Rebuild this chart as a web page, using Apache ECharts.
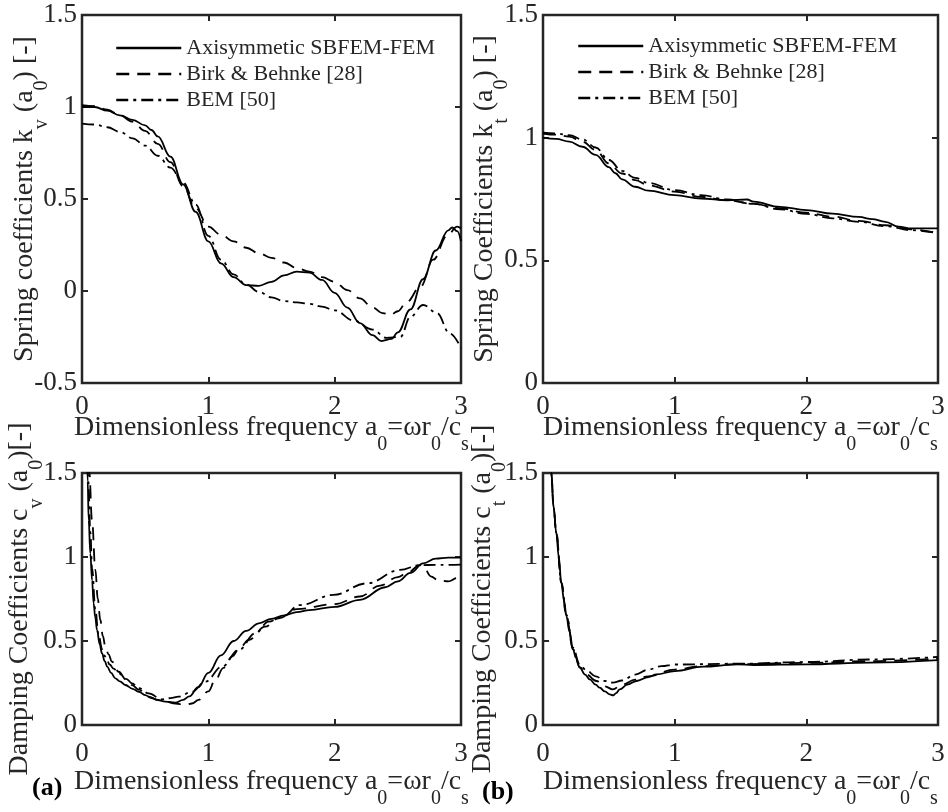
<!DOCTYPE html>
<html>
<head>
<meta charset="utf-8">
<script src="https://cdn.jsdelivr.net/npm/echarts@6/dist/echarts.min.js"></script>
<style>
html,body{margin:0;padding:0;background:#fff;}
#main{width:948px;height:812px;}
</style>
</head>
<body>
<div id="main"></div>
<script>
// ---------------- data ----------------
const seriesNames = ['Axisymmetic SBFEM-FEM', 'Birk & Behnke [28]', 'BEM [50]'];
const xTicks = [0, 1, 2, 3];

// (a) top: spring coefficient k_v
const kvX_sbfem = [0,0.1,0.2,0.3,0.4,0.5,0.55,0.6,0.7,0.8,0.9,1.0,1.1,1.2,1.3,1.4,1.5,1.6,1.7,1.8,1.9,2.0,2.1,2.2,2.3,2.37,2.45,2.5,2.6,2.7,2.8,2.9,2.93,2.97,3.0];
const kv_sbfem   = [1.0,1.0,0.98,0.955,0.93,0.9,0.875,0.84,0.73,0.58,0.43,0.27,0.15,0.075,0.032,0.028,0.05,0.085,0.105,0.1,0.06,-0.01,-0.09,-0.175,-0.24,-0.272,-0.26,-0.225,-0.1,0.065,0.22,0.33,0.345,0.325,0.27];
const kvX_birk = [0,0.1,0.2,0.3,0.4,0.5,0.6,0.7,0.8,0.9,1.0,1.1,1.2,1.3,1.4,1.5,1.6,1.7,1.8,1.9,2.0,2.1,2.2,2.3,2.38,2.44,2.5,2.57,2.68,2.78,2.89,2.97,3.0];
const kv_birk   = [1.01,1.005,0.985,0.955,0.92,0.87,0.8,0.7,0.57,0.45,0.35,0.305,0.27,0.235,0.205,0.18,0.155,0.125,0.105,0.075,0.05,0.005,-0.04,-0.09,-0.12,-0.13,-0.11,-0.06,0.025,0.17,0.3,0.35,0.34];
const kvX_bem = [0,0.1,0.2,0.3,0.4,0.5,0.6,0.7,0.8,0.9,1.0,1.1,1.2,1.3,1.4,1.5,1.6,1.7,1.8,1.9,2.0,2.15,2.3,2.41,2.52,2.6,2.7,2.81,2.91,3.0];
const kv_bem   = [0.91,0.905,0.89,0.865,0.83,0.79,0.735,0.67,0.59,0.47,0.3,0.17,0.09,0.035,-0.005,-0.035,-0.055,-0.062,-0.07,-0.085,-0.105,-0.16,-0.21,-0.255,-0.25,-0.14,-0.076,-0.12,-0.23,-0.31];

// (b) top: spring coefficient k_t
const ktX_sbfem = [0,0.1,0.2,0.3,0.4,0.5,0.55,0.6,0.7,0.8,1.0,1.2,1.4,1.55,1.6,1.8,2.0,2.2,2.4,2.5,2.6,2.7,2.8,3.0];
const kt_sbfem   = [1.0,0.995,0.984,0.963,0.93,0.88,0.855,0.83,0.8,0.784,0.766,0.752,0.745,0.748,0.739,0.718,0.705,0.69,0.677,0.668,0.657,0.637,0.63,0.63];
const ktX_ref = [0,0.1,0.2,0.3,0.4,0.5,0.6,0.7,0.8,1.0,1.2,1.4,1.6,1.8,2.0,2.2,2.4,2.6,2.8,3.0];
const kt_birk  = [1.017,1.012,1.004,0.984,0.95,0.895,0.854,0.827,0.806,0.78,0.759,0.745,0.73,0.712,0.694,0.678,0.661,0.643,0.626,0.61];
const kt_bem   = [1.02,1.017,1.01,0.993,0.96,0.909,0.865,0.836,0.816,0.786,0.766,0.748,0.73,0.708,0.689,0.671,0.657,0.639,0.623,0.61];

// (a) bottom: damping coefficient c_v
const cvX_sbfem = [0.035,0.045,0.053,0.066,0.08,0.092,0.105,0.119,0.14,0.158,0.18,0.2,0.23,0.264,0.3,0.343,0.4,0.45,0.5,0.55,0.6,0.66,0.74,0.8,0.85,0.92,1.0,1.1,1.2,1.3,1.4,1.5,1.6,1.7,1.8,2.0,2.2,2.4,2.5,2.6,2.7,2.8,2.9,3.0];
const cv_sbfem   = [1.75,1.45,1.22,1.02,0.86,0.724,0.64,0.565,0.48,0.427,0.38,0.347,0.31,0.278,0.26,0.238,0.215,0.198,0.178,0.16,0.148,0.139,0.133,0.15,0.17,0.225,0.31,0.415,0.5,0.56,0.605,0.632,0.652,0.672,0.684,0.703,0.745,0.82,0.855,0.905,0.962,0.99,0.996,0.996];
const cvX_birk = [0.045,0.058,0.079,0.106,0.125,0.145,0.165,0.185,0.21,0.237,0.29,0.35,0.396,0.45,0.528,0.6,0.66,0.74,0.818,0.87,0.923,1.0,1.055,1.12,1.187,1.25,1.319,1.45,1.557,1.7,2.0,2.2,2.36,2.5,2.57,2.675,2.72,2.76,2.82,2.9,2.97,3.0];
const cv_birk   = [1.8,1.5,1.22,0.923,0.75,0.625,0.53,0.466,0.42,0.377,0.317,0.27,0.238,0.21,0.169,0.15,0.139,0.128,0.119,0.128,0.149,0.2,0.268,0.34,0.407,0.46,0.506,0.585,0.635,0.69,0.72,0.765,0.83,0.88,0.903,0.952,0.92,0.885,0.862,0.855,0.875,0.885];
const cvX_bem = [0.04,0.05,0.066,0.08,0.106,0.13,0.16,0.185,0.22,0.25,0.29,0.35,0.396,0.45,0.528,0.633,0.7,0.765,0.871,0.976,1.108,1.24,1.372,1.478,1.583,1.726,1.99,2.254,2.517,2.675,2.8,2.9,3.0];
const cv_bem   = [1.7,1.45,1.15,0.93,0.684,0.54,0.45,0.407,0.36,0.335,0.308,0.275,0.248,0.22,0.188,0.153,0.16,0.169,0.198,0.258,0.347,0.446,0.546,0.615,0.645,0.714,0.774,0.843,0.923,0.952,0.953,0.953,0.955];

// (b) bottom: damping coefficient c_t
const ctX_sbfem = [0.05,0.063,0.08,0.101,0.12,0.139,0.16,0.178,0.2,0.228,0.25,0.279,0.32,0.355,0.4,0.431,0.47,0.507,0.533,0.555,0.583,0.64,0.71,0.8,0.862,1.0,1.217,1.47,1.6,2.0,2.485,3.0];
const ct_sbfem   = [1.75,1.5,1.3,1.143,1.0,0.846,0.74,0.648,0.56,0.45,0.4,0.341,0.3,0.271,0.24,0.222,0.2,0.182,0.176,0.19,0.212,0.24,0.262,0.285,0.301,0.321,0.347,0.361,0.357,0.361,0.371,0.386];
const ctX_birk = [0.05,0.063,0.08,0.101,0.139,0.178,0.228,0.279,0.33,0.406,0.47,0.53,0.6,0.7,0.8,1.0,1.2,1.5,2.0,2.5,3.0];
const ct_birk   = [1.75,1.5,1.3,1.143,0.846,0.648,0.45,0.345,0.3,0.262,0.23,0.212,0.24,0.27,0.29,0.33,0.35,0.362,0.37,0.38,0.395];
const ctX_bem = [0.05,0.063,0.08,0.101,0.139,0.178,0.228,0.279,0.33,0.4,0.47,0.53,0.6,0.7,0.8,0.9,1.0,1.5,2.0,2.5,3.0];
const ct_bem   = [1.75,1.5,1.3,1.143,0.85,0.655,0.46,0.36,0.325,0.29,0.262,0.252,0.265,0.3,0.33,0.35,0.36,0.365,0.375,0.39,0.405];

// ---------------- styles ----------------
const FONT = '"Liberation Serif", "Times New Roman", serif';
const TXT = '#262626';
const lineTypes = ['solid', [13, 8], [12, 5, 3, 5]];

function pairs(xs, ys) { return xs.map((x, i) => [x, ys[i]]); }

const rich = {
  m: { fontSize: 28, fontFamily: FONT, color: TXT, verticalAlign: 'top' },
  s: { fontSize: 20, fontFamily: FONT, color: TXT, verticalAlign: 'top', padding: [21, 0, 0, 0] }
};
const xName = '{m|Dimensionless frequency a}{s|0}{m|=ωr}{s|0}{m|/c}{s|s}';
const yNames = [
  '{m|Spring coefficients k}{s|v}{m| (a}{s|0}{m|) [-]}',
  '{m|Spring Coefficients k}{s|t}{m| (a}{s|0}{m|) [-]}',
  '{m|Damping Coefficients c}{s|v}{m| (a}{s|0}{m|)[-]}',
  '{m|Damping Coefficients c}{s|t}{m| (a}{s|0}{m|)[-]}'
];

const grids = [
  { left: 82, top: 15, width: 379, height: 368 },
  { left: 543, top: 15, width: 395, height: 368 },
  { left: 82, top: 473, width: 379, height: 252 },
  { left: 543, top: 473, width: 395, height: 252 }
];
const yRanges = [[-0.5, 1.5], [0, 1.5], [0, 1.5], [0, 1.5]];
const xNameGaps = [31, 31, 43, 43];
const xLabelMargins = [10, 10, 15, 15];
const yNameGaps = [30, 31, 35, 33];

const panelData = [
  [pairs(kvX_sbfem, kv_sbfem), pairs(kvX_birk, kv_birk), pairs(kvX_bem, kv_bem)],
  [pairs(ktX_sbfem, kt_sbfem), pairs(ktX_ref, kt_birk), pairs(ktX_ref, kt_bem)],
  [pairs(cvX_sbfem, cv_sbfem), pairs(cvX_birk, cv_birk), pairs(cvX_bem, cv_bem)],
  [pairs(ctX_sbfem, ct_sbfem), pairs(ctX_birk, ct_birk), pairs(ctX_bem, ct_bem)]
];

const tick = { inside: true, length: 6, lineStyle: { color: TXT, width: 2 } };
const labelStyle = { fontSize: 27, fontFamily: FONT, color: TXT };
const noLine = { show: false, onZero: false };

const xAxes = [], yAxes = [], series = [];
grids.forEach((g, i) => {
  xAxes.push({
    type: 'value', gridIndex: i, min: xTicks[0], max: xTicks[xTicks.length - 1], interval: 1,
    position: 'bottom', axisLine: noLine, axisTick: tick, splitLine: { show: false },
    axisLabel: Object.assign({ margin: xLabelMargins[i] }, labelStyle),
    name: xName, nameLocation: 'middle', nameGap: xNameGaps[i], nameMoveOverlap: false,
    nameTextStyle: { rich: rich }
  });
  xAxes.push({
    type: 'value', gridIndex: i, min: 0, max: 3, interval: 1, position: 'top',
    axisLine: noLine, axisTick: tick, axisLabel: { show: false }, splitLine: { show: false }
  });
  yAxes.push({
    type: 'value', gridIndex: i, min: yRanges[i][0], max: yRanges[i][1], interval: 0.5,
    position: 'left', axisLine: noLine, axisTick: tick, splitLine: { show: false },
    axisLabel: Object.assign({ margin: 5 }, labelStyle),
    name: yNames[i], nameLocation: 'middle', nameGap: yNameGaps[i], nameMoveOverlap: false,
    nameTextStyle: { rich: rich }
  });
  yAxes.push({
    type: 'value', gridIndex: i, min: yRanges[i][0], max: yRanges[i][1], interval: 0.5,
    position: 'right', axisLine: noLine, axisTick: tick, axisLabel: { show: false }, splitLine: { show: false }
  });
  panelData[i].forEach((d, k) => {
    series.push({
      type: 'line', name: seriesNames[k], xAxisIndex: 2 * i, yAxisIndex: 2 * i,
      data: d, symbol: 'none', smooth: 0.4, smoothMonotone: 'x', clip: true,
      lineStyle: { color: '#000', width: 1.8, type: lineTypes[k] },
      itemStyle: { color: '#000' },
      z: 3 - k
    });
  });
});

const legendBase = {
  orient: 'vertical', itemWidth: 65, itemHeight: 14, itemGap: 4, padding: 0, data: seriesNames,
  textStyle: { fontSize: 22, fontFamily: FONT, color: TXT, lineHeight: 22 },
  itemStyle: { opacity: 0 },
  lineStyle: { width: 2.5 },
  selectedMode: false
};

const option = {
  animation: false,
  backgroundColor: '#fff',
  grid: grids.map(g => Object.assign({
    show: true, borderColor: TXT, borderWidth: 2.5, backgroundColor: '#fff',
    containLabel: false, outerBoundsMode: 'none'
  }, g)),
  xAxis: xAxes,
  yAxis: yAxes,
  legend: [
    Object.assign({ left: 115, top: 37 }, legendBase),
    Object.assign({ left: 577, top: 35 }, legendBase)
  ],
  graphic: [
    { type: 'text', left: 32, top: 775, style: { text: '(a)', font: 'bold 26px ' + FONT, fill: '#000' } },
    { type: 'text', left: 482, top: 779, style: { text: '(b)', font: 'bold 26px ' + FONT, fill: '#000' } }
  ],
  series: series
};

const chart = echarts.init(document.getElementById('main'), null, { renderer: 'canvas' });
chart.setOption(option);
</script>
</body>
</html>
